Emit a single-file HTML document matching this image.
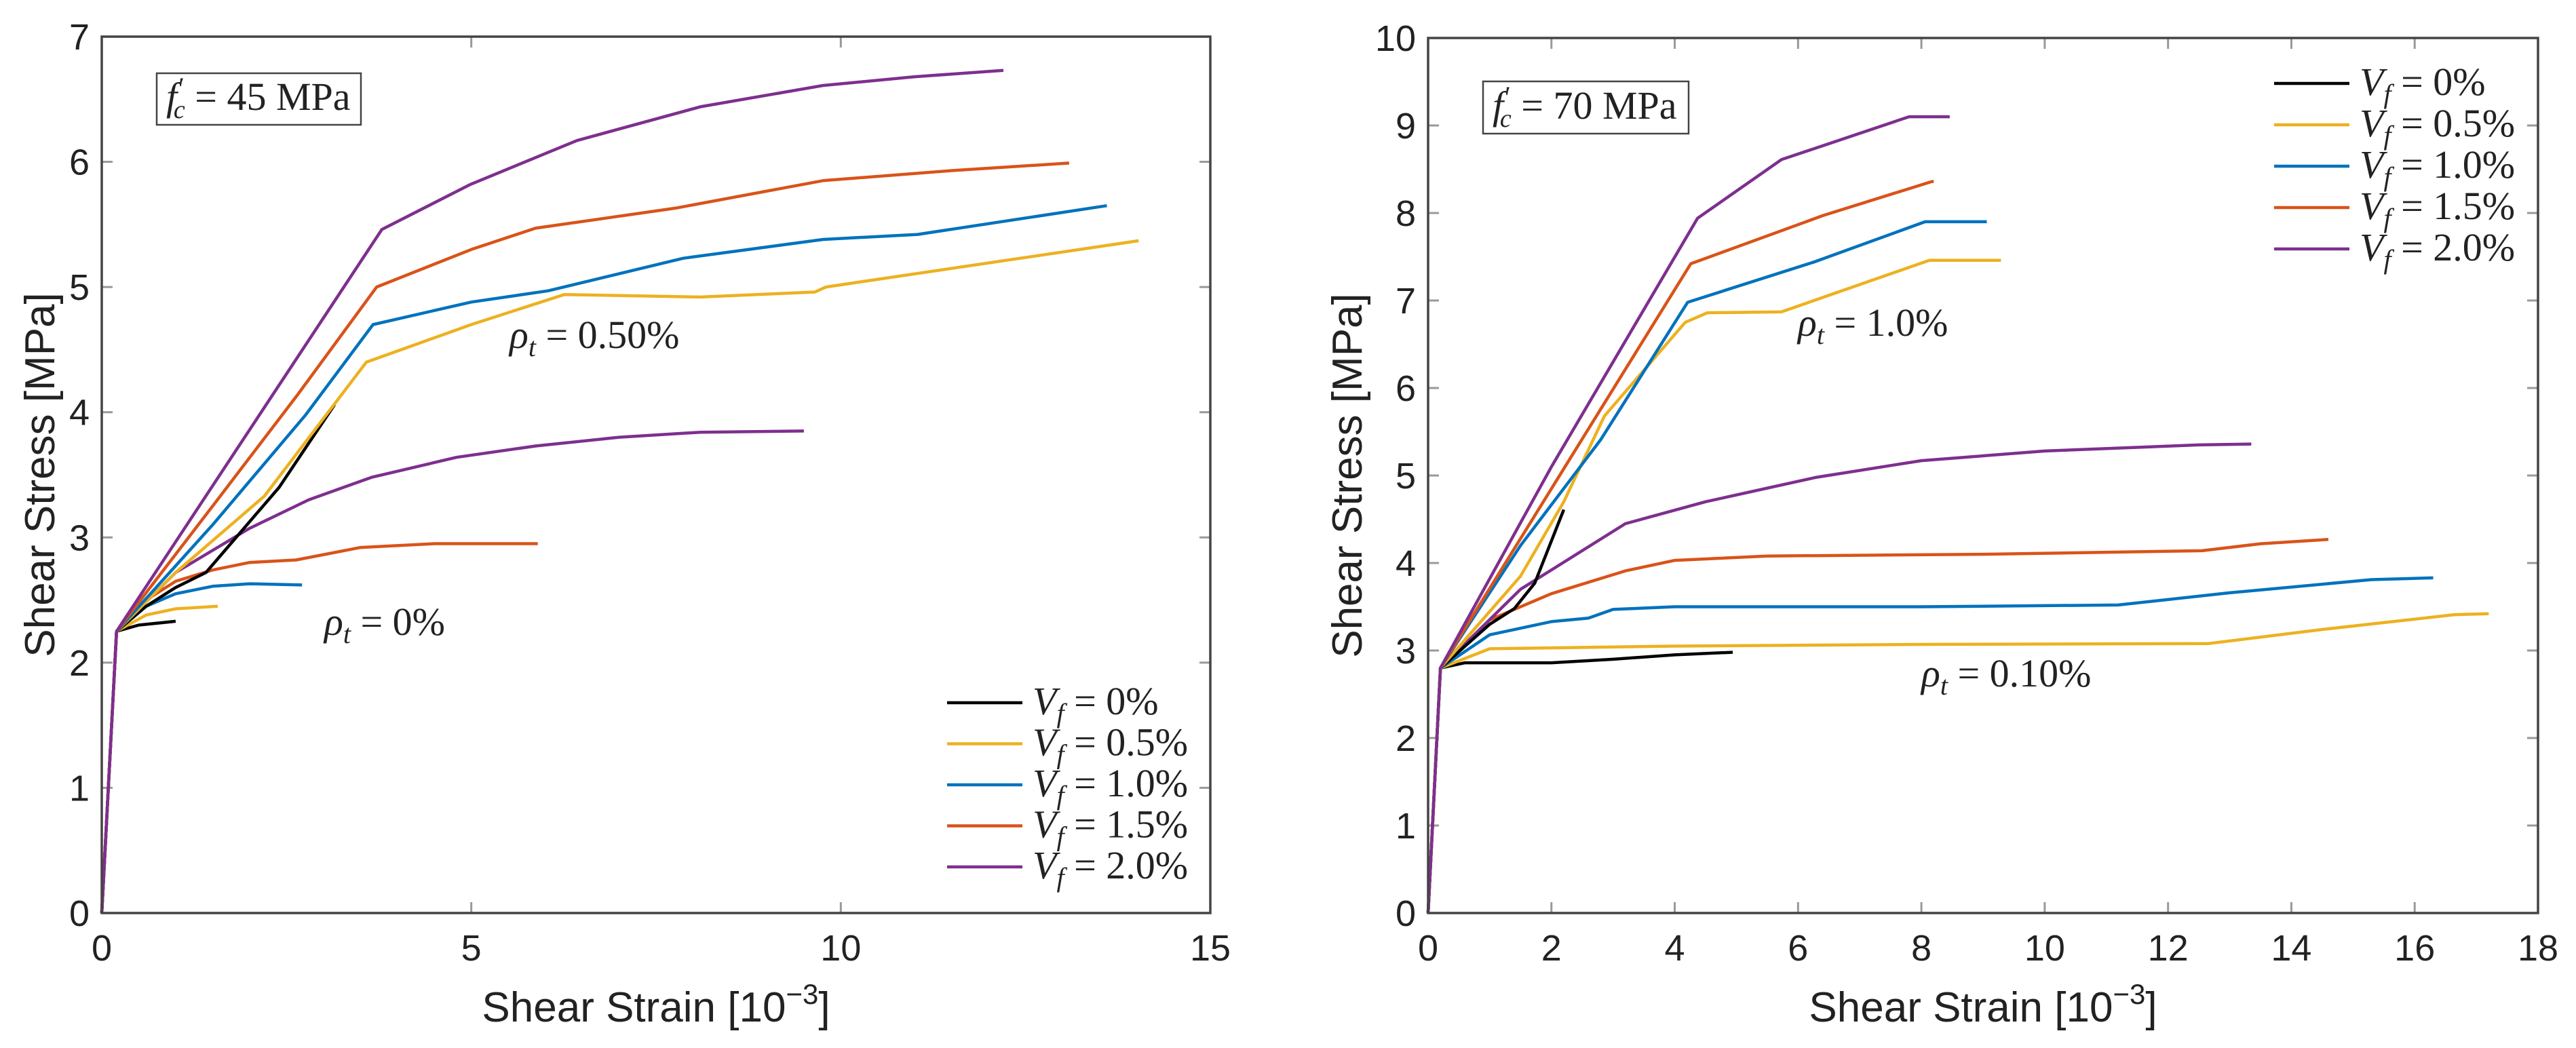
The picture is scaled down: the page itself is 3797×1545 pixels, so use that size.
<!DOCTYPE html>
<html><head><meta charset="utf-8"><style>
html,body{margin:0;padding:0;background:#fff;}
svg{display:block;}
.tick{font-family:"Liberation Sans",sans-serif;font-size:54px;fill:#222;}
.ttl{font-family:"Liberation Sans",sans-serif;font-size:62px;fill:#222;}
.ser{font-family:"Liberation Serif",serif;font-size:58px;fill:#222;}
</style></head><body>
<svg id="fig" width="3797" height="1545" xmlns="http://www.w3.org/2000/svg">
<rect width="3797" height="1545" fill="#fff"/>
</svg>
<script>
const NS="http://www.w3.org/2000/svg";
const colors=["#000000","#EDB120","#0072BD","#D95319","#7E2F8E"];
const vfLabels=["0%","0.5%","1.0%","1.5%","2.0%"];
// Left chart (f'c = 45 MPa) data
const L_xTicks=[0,5,10,15];
const L_yTicks=[0,1,2,3,4,5,6,7];
const L_low_x=[
 [0,0.2,0.5,1.0],
 [0,0.2,0.6,1.0,1.57],
 [0,0.2,0.6,1.0,1.5,2.0,2.71],
 [0,0.2,0.6,1.0,1.5,2.0,2.63,3.5,4.5,5.9],
 [0,0.2,1.0,1.99,2.8,3.65,4.8,5.87,7.0,8.1,9.5]];
const L_low_y=[
 [0,2.25,2.3,2.33],
 [0,2.25,2.38,2.43,2.45],
 [0,2.25,2.45,2.55,2.61,2.63,2.62],
 [0,2.25,2.5,2.65,2.74,2.8,2.82,2.92,2.95,2.95],
 [0,2.25,2.72,3.07,3.3,3.48,3.64,3.73,3.8,3.84,3.85]];
const L_high_x=[
 [0,0.2,0.6,1.0,1.41,2.4,3.15],
 [0,0.2,1.0,2.2,3.58,5.0,6.26,8.1,9.65,9.8,14.03],
 [0,0.2,1.5,2.76,3.67,5.0,6.04,7.87,9.76,11.04,13.6],
 [0,0.2,1.5,2.65,3.72,5.0,5.87,7.76,9.76,11.5,13.09],
 [0,0.2,3.79,4.99,6.43,8.1,9.76,11.0,12.2]];
const L_high_y=[
 [0,2.25,2.45,2.6,2.72,3.4,4.06],
 [0,2.25,2.72,3.33,4.40,4.7,4.94,4.92,4.96,5.0,5.37],
 [0,2.25,3.1,3.98,4.70,4.88,4.97,5.23,5.38,5.42,5.65],
 [0,2.25,3.25,4.14,5.0,5.3,5.47,5.63,5.85,5.93,5.99],
 [0,2.25,5.46,5.82,6.17,6.44,6.61,6.68,6.73]];
// Right chart (f'c = 70 MPa) data
const R_xTicks=[0,2,4,6,8,10,12,14,16,18];
const R_yTicks=[0,1,2,3,4,5,6,7,8,9,10];
const R_low_x=[
 [0,0.2,0.6,2.0,3.0,4.0,4.94],
 [0,0.2,1.0,4.0,8.0,12.66,14.5,16.65,17.2],
 [0,0.2,1.0,2.0,2.6,3.0,4.0,8.0,11.19,13.0,15.3,16.3],
 [0,0.2,1.0,2.0,3.2,4.0,5.5,9.0,12.55,13.5,14.6],
 [0,0.2,1.5,3.2,4.5,6.3,8.0,10.0,12.5,13.35]];
const R_low_y=[
 [0,2.8,2.86,2.86,2.9,2.95,2.98],
 [0,2.8,3.02,3.05,3.07,3.08,3.24,3.41,3.42],
 [0,2.8,3.18,3.33,3.37,3.47,3.5,3.5,3.52,3.66,3.81,3.83],
 [0,2.8,3.35,3.65,3.91,4.03,4.08,4.1,4.14,4.22,4.27],
 [0,2.8,3.7,4.45,4.7,4.98,5.17,5.28,5.35,5.36]];
const R_high_x=[
 [0,0.2,1.0,1.4,1.73,2.2],
 [0,0.2,1.5,2.2,2.86,4.17,4.53,5.73,8.13,9.29],
 [0,0.2,1.5,2.8,4.21,6.26,8.06,9.06],
 [0,0.2,2.0,4.26,6.4,8.17,8.2],
 [0,0.2,2.0,4.37,5.73,7.8,8.46]];
const R_high_y=[
 [0,2.8,3.3,3.48,3.77,4.61],
 [0,2.8,3.85,4.7,5.68,6.75,6.86,6.87,7.46,7.46],
 [0,2.8,4.2,5.41,6.98,7.44,7.9,7.9],
 [0,2.8,4.85,7.42,7.97,8.36,8.36],
 [0,2.8,5.1,7.94,8.61,9.1,9.1]];

const svg=document.getElementById('fig');
function el(tag,attrs,parent){const e=document.createElementNS(NS,tag);for(const k in attrs)e.setAttribute(k,attrs[k]);(parent||svg).appendChild(e);return e;}

function drawChart(o){
 const g=el('g',{});
 
 
 const sx=v=>o.x0+(v-o.xmin)/(o.xmax-o.xmin)*(o.x1-o.x0);
 const sy=v=>o.y0-(v-o.ymin)/(o.ymax-o.ymin)*(o.y0-o.y1);
 o.xTicks.forEach(t=>{
  const x=sx(t);
  const a=el('line',{x1:x,x2:x,y1:o.y0,y2:o.y0-16,stroke:'#999','stroke-width':3},g);
  
  const b=el('line',{x1:x,x2:x,y1:o.y1,y2:o.y1+16,stroke:'#999','stroke-width':3},g);
  
  const tx=el('text',{x:x,y:o.y0+70,'text-anchor':'middle',class:'tick'},g);tx.textContent=t;
  
 });
 o.yTicks.forEach(t=>{
  const y=sy(t);
  const a=el('line',{x1:o.x0,x2:o.x0+16,y1:y,y2:y,stroke:'#999','stroke-width':3},g);
  
  const b=el('line',{x1:o.x1,x2:o.x1-16,y1:y,y2:y,stroke:'#999','stroke-width':3},g);
  
  const tx=el('text',{x:o.x0-18,y:y+19,'text-anchor':'end',class:'tick'},g);tx.textContent=t;
  
 });
 [[o.lowX,o.lowY,'low'],[o.highX,o.highY,'high']].forEach(([XS,YS,tag])=>{
  XS.forEach((xs,i)=>{
   const d=xs.map((x,j)=>(j?'L':'M')+sx(x).toFixed(1)+' '+sy(YS[i][j]).toFixed(1)).join(' ');
   const p=el('path',{d:d,fill:'none',stroke:colors[i],'stroke-width':4.5,'stroke-linejoin':'round'},g);
   
   
  });
 });
 const f=el('rect',{x:o.x0,y:o.y1,width:o.x1-o.x0,height:o.y0-o.y1,fill:'none',stroke:'#444','stroke-width':3.5},g);
 
 const xt=el('text',{x:(o.x0+o.x1)/2,y:o.y0+160,'text-anchor':'middle',class:'ttl'},g);
 xt.innerHTML='Shear Strain [10<tspan dy="-26" font-size="42">−3</tspan><tspan dy="26">]</tspan>';
 
 const yt=el('text',{x:o.ytx,y:(o.y0+o.y1)/2,'text-anchor':'middle',class:'ttl',transform:'rotate(-90 '+o.ytx+' '+(o.y0+o.y1)/2+')'},g);
 yt.textContent='Shear Stress [MPa]';
 
 const bx=el('rect',{x:o.box[0],y:o.box[1],width:o.box[2],height:o.box[3],fill:'#fff',stroke:'#444','stroke-width':2.5},g);
 
 const bt=el('text',{x:o.box[0]+14,y:o.box[1]+o.box[3]-22,class:'ser'},g);
 bt.innerHTML='<tspan font-style="italic">f</tspan><tspan dy="-20" dx="2" font-size="40">′</tspan><tspan dy="32" dx="-16" font-size="38" font-style="italic">c</tspan><tspan dy="-12"> = '+o.fc+' MPa</tspan>';
 
 o.rho.forEach(r=>{
  const t=el('text',{x:r[0],y:r[1],class:'ser'},g);
  t.innerHTML='<tspan font-style="italic">ρ</tspan><tspan dy="12" font-size="40" font-style="italic">t</tspan><tspan dy="-12"> = '+r[2]+'</tspan>';
  
 });
 const lg=el('g',{},g);
 
 vfLabels.forEach((lab,i)=>{
  const y=o.leg[1]+i*o.leg[3];
  const ln=el('line',{x1:o.leg[0],x2:o.leg[0]+111,y1:y,y2:y,stroke:colors[i],'stroke-width':4.5},lg);
  
  const t=el('text',{x:o.leg[0]+126,y:y+17,class:'ser'},lg);
  t.innerHTML='<tspan font-style="italic">V</tspan><tspan dy="12" font-size="40" font-style="italic">f</tspan><tspan dy="-12"> = '+lab+'</tspan>';
  
 });
}
drawChart({name:'left-chart',x0:150,x1:1784,y0:1346,y1:54,xmin:0,xmax:15,ymin:0,ymax:7,
 xTicks:L_xTicks,yTicks:L_yTicks,lowX:L_low_x,lowY:L_low_y,highX:L_high_x,highY:L_high_y,
 ytx:80,box:[231,108,301,76],fc:'45',rho:[[751,513,'0.50%'],[478,936,'0%']],leg:[1396,1036,0,60.5]});
drawChart({name:'right-chart',x0:2105,x1:3741,y0:1346,y1:56,xmin:0,xmax:18,ymin:0,ymax:10,
 xTicks:R_xTicks,yTicks:R_yTicks,lowX:R_low_x,lowY:R_low_y,highX:R_high_x,highY:R_high_y,
 ytx:2007,box:[2186,120,303,77],fc:'70',rho:[[2650,495,'1.0%'],[2832,1012,'0.10%']],leg:[3352,123,0,61]});
</script>
</body></html>
